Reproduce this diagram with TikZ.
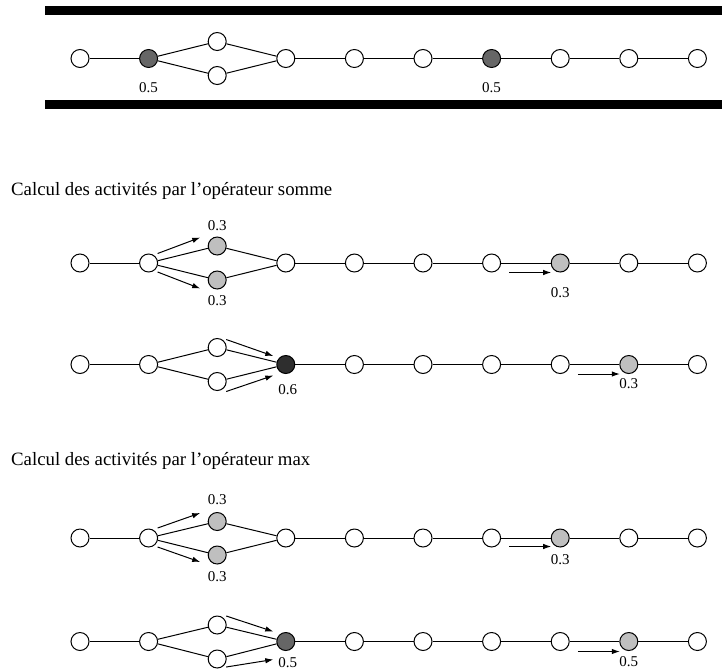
\documentclass[tikz,border=0pt]{standalone}
\usepackage{fontspec}
\setmainfont{Liberation Serif}
\usetikzlibrary{arrows.meta,calc}
\colorlet{lowact}{black!25}
\colorlet{midact}{black!60}
\colorlet{highact}{black!82}
\newcommand{\chainlinks}[1]{%
  \foreach \i/\j in {1/2,4/5,5/6,6/7,7/8,8/9,9/10}
    \draw[link] (#1\i) -- (#1\j);
  \draw[link] (#12) -- (#1u) -- (#14) -- (#1l) -- (#12);
}

\begin{document}
\begin{tikzpicture}[x=1pt,y=-1pt,
    dot/.style={circle,draw,fill=white,line width=1pt,minimum size=18pt,inner sep=0pt},
    low/.style={fill=lowact},
    mid/.style={fill=midact},
    high/.style={fill=highact},
    link/.style={line width=1pt},
    flow/.style={-{Latex[length=8pt,width=5.5pt]},line width=1pt},
    val/.style={font=\fontsize{15}{17}\selectfont,inner sep=0pt},
    title/.style={anchor=base west,font=\fontsize{18.8}{22}\selectfont,inner sep=0pt}
  ]
  \useasboundingbox (0,0) rectangle (722,670);

  \fill (45,6) rectangle (722,15);
  \fill (45,100) rectangle (722,109);
  \foreach \i in {1,4,5,6,8,9,10}
    \node[dot] (a\i) at ({80+68.6*(\i-1)},58.5) {};
  \node[dot,mid] (a2) at (148.6,58.5) {};
  \node[dot,mid] (a7) at (491.6,58.5) {};
  \node[dot] (au) at (217.2,41.5) {};
  \node[dot] (al) at (217.2,75.5) {};
  \chainlinks{a}
  \node[val] (va2) at (148.6,88) {0.5};
  \node[val] (va7) at (491.6,88) {0.5};

  \node[title] (tsum) at (11,195) {Calcul des activités par l'opérateur somme};

  \foreach \i in {1,2,4,5,6,7,9,10}
    \node[dot] (b\i) at ({80+68.6*(\i-1)},263) {};
  \node[dot,low] (b8) at (560.2,263) {};
  \node[dot,low] (bu) at (217.2,246) {};
  \node[dot,low] (bl) at (217.2,280) {};
  \chainlinks{b}
  \draw[flow] ($(b2)+(9,-9.5)$) -- ($(bu)+(-17,-8.5)$);
  \draw[flow] ($(b2)+(9,9)$) -- ($(bl)+(-17,8.5)$);
  \draw[flow] ($(b8)+(-51,9.5)$) -- ($(b8)+(-9,9.5)$);
  \node[val] (vbu) at (217.2,225.3) {0.3};
  \node[val] (vbl) at (217.2,300.5) {0.3};
  \node[val] (vb8) at (560.2,292.7) {0.3};

  \foreach \i in {1,2,5,6,7,8,10}
    \node[dot] (c\i) at ({80+68.6*(\i-1)},364.5) {};
  \node[dot,high] (c4) at (285.8,364.5) {};
  \node[dot,low] (c9) at (628.8,364.5) {};
  \node[dot] (cu) at (217.2,347.5) {};
  \node[dot] (cl) at (217.2,381.5) {};
  \chainlinks{c}
  \draw[flow] ($(cu)+(9,-8)$) -- ($(c4)+(-12.5,-8.5)$);
  \draw[flow] ($(cl)+(9,10)$) -- ($(c4)+(-12.5,11)$);
  \draw[flow] ($(c9)+(-51,9.5)$) -- ($(c9)+(-9,9.5)$);
  \node[val] (vc4) at (287.7,389.5) {0.6};
  \node[val] (vc9) at (628.8,383.8) {0.3};

  \node[title] (tmax) at (11,465) {Calcul des activités par l'opérateur max};

  \foreach \i in {1,2,4,5,6,7,9,10}
    \node[dot] (d\i) at ({80+68.6*(\i-1)},538) {};
  \node[dot,low] (d8) at (560.2,538) {};
  \node[dot,low] (du) at (217.2,521.5) {};
  \node[dot,low] (dl) at (217.2,555) {};
  \chainlinks{d}
  \draw[flow] ($(d2)+(9,-10)$) -- ($(du)+(-17,-8.5)$);
  \draw[flow] ($(d2)+(9,9)$) -- ($(dl)+(-17,7)$);
  \draw[flow] ($(d8)+(-51,8.5)$) -- ($(d8)+(-9,8.5)$);
  \node[val] (vdu) at (217.2,499.5) {0.3};
  \node[val] (vdl) at (217.2,576.2) {0.3};
  \node[val] (vd8) at (560.2,560) {0.3};

  \foreach \i in {1,2,5,6,7,8,10}
    \node[dot] (e\i) at ({80+68.6*(\i-1)},641.5) {};
  \node[dot,mid] (e4) at (285.8,641.5) {};
  \node[dot,low] (e9) at (628.8,641.5) {};
  \node[dot] (eu) at (217.2,625) {};
  \node[dot] (el) at (217.2,659) {};
  \chainlinks{e}
  \draw[flow] ($(eu)+(9,-9)$) -- ($(e4)+(-12.5,-10)$);
  \draw[flow] ($(el)+(9,8)$) -- ($(e4)+(-12.5,18)$);
  \draw[flow] ($(e9)+(-51,10)$) -- ($(e9)+(-9,10)$);
  \node[val] (ve4) at (287.7,662.3) {0.5};
  \node[val] (ve9) at (628.8,662) {0.5};
\end{tikzpicture}
\end{document}
